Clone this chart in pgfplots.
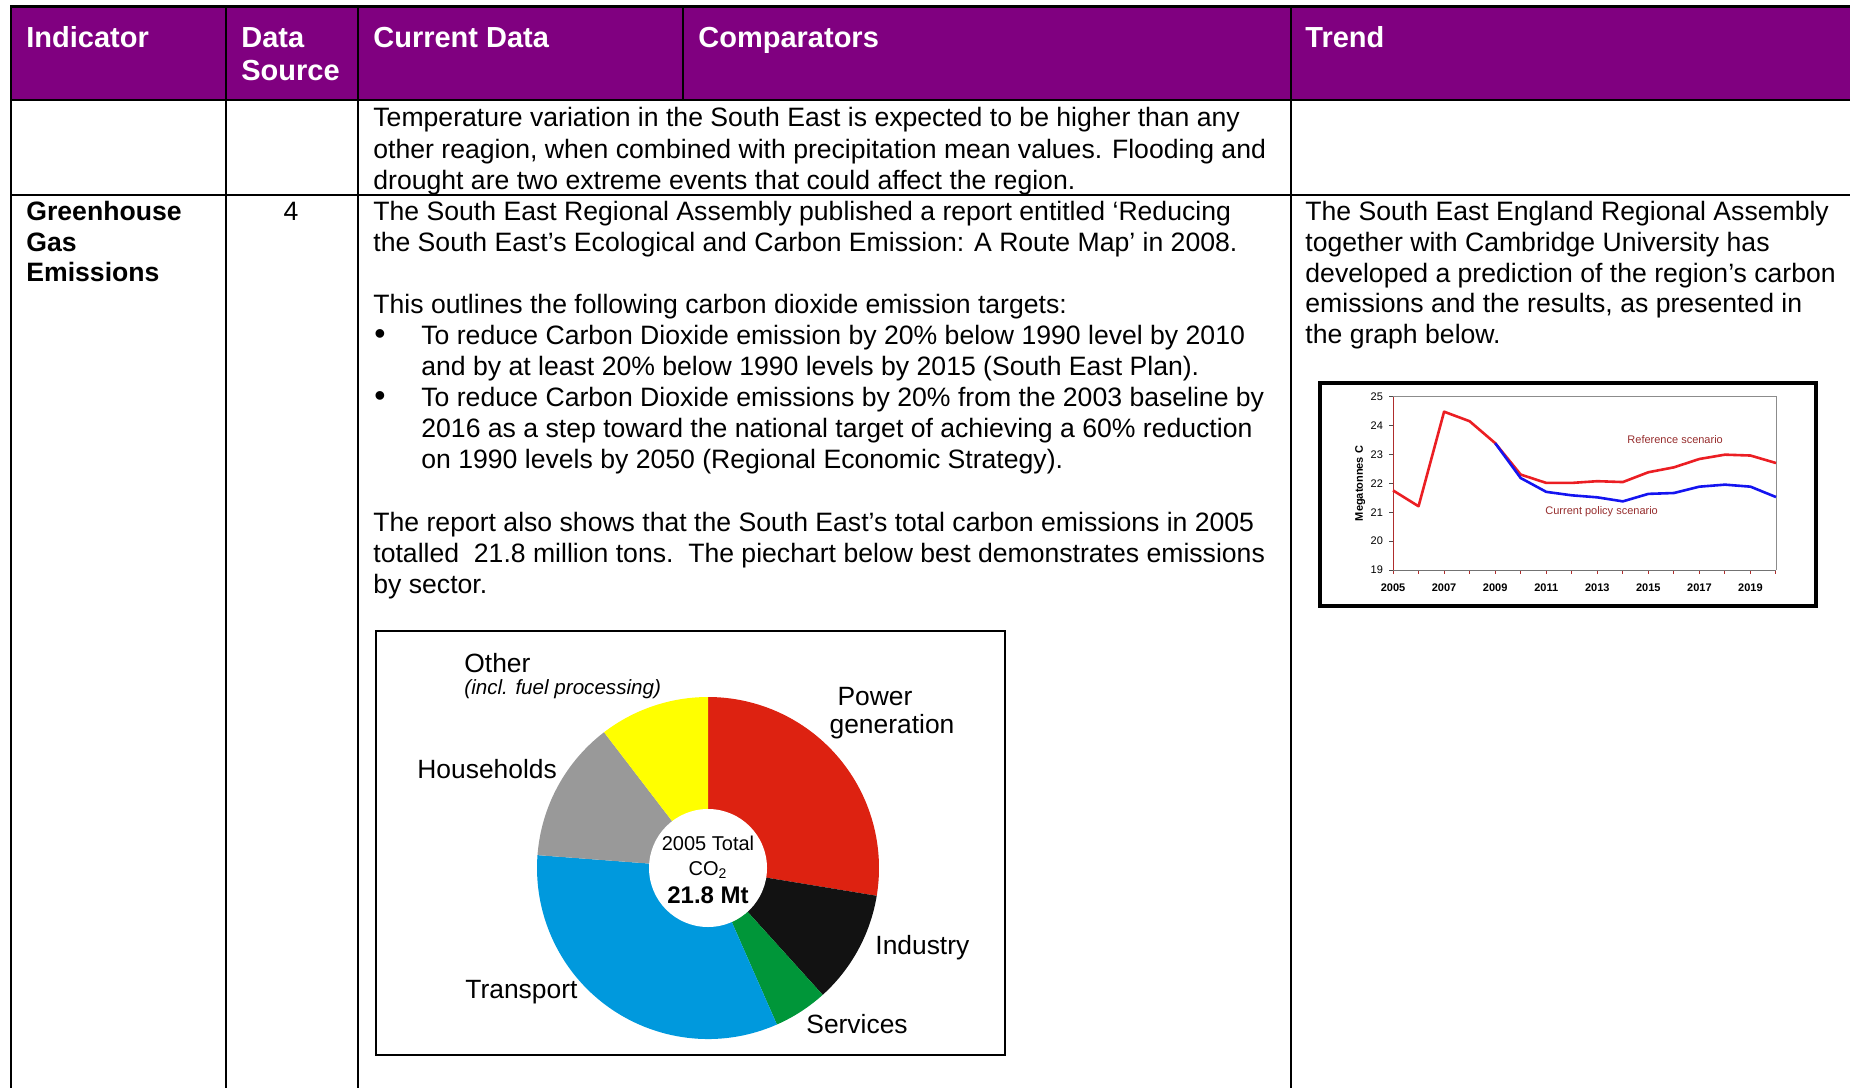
\documentclass[border=0pt]{standalone}
\usepackage{pgfplots}
\pgfplotsset{compat=1.18}
\usepackage{fontspec}
\setmainfont{Liberation Sans}
\definecolor{hdr}{RGB}{128,0,128}
\definecolor{pwr}{RGB}{221,34,17}
\definecolor{ind}{RGB}{18,18,18}
\definecolor{srv}{RGB}{0,150,57}
\definecolor{trn}{RGB}{0,153,221}
\definecolor{hh}{RGB}{153,153,153}
\definecolor{oth}{RGB}{255,255,0}
\definecolor{refred}{RGB}{235,30,35}
\definecolor{polblue}{RGB}{20,20,240}
\definecolor{lbl}{RGB}{150,45,45}
\definecolor{axred}{RGB}{175,45,45}
\newcommand{\bodyfont}{\fontsize{13.3}{15.5}\selectfont}
\newcommand{\hdrfont}{\bfseries\fontsize{14.5}{16.5}\selectfont}
\newcommand{\pielbl}{\fontsize{13.2}{15}\selectfont}
\newcommand{\chartfont}{\fontsize{5.5}{6.5}\selectfont}
\newcommand{\txt}[3]{\node[anchor=base west,inner sep=0pt,font=\bodyfont] at (#1,#2) {#3};}
\newcommand{\bul}[2]{\node[anchor=base west,inner sep=0pt,font=\fontsize{16}{16}\selectfont] at (#1,#2) {•};}
% pie data: share (%) of 2005 total CO2 (21.8 Mt), clockwise from 12 o'clock
\def\vPower{27.6}
\def\vIndustry{10.7}
\def\vServices{5.1}
\def\vTransport{32.8}
\def\vHouseholds{13.4}
\def\vOther{10.4}
\begin{document}
\begin{tikzpicture}
\useasboundingbox (0pt,0pt) rectangle (925pt,544pt);
\begin{scope}[x=0.5pt,y=0.5pt]
\clip (0,0) rectangle (1850,1088);
\fill[hdr] (11,1081) rectangle (1850,988);
\draw[line width=0.8pt] (226,1081) -- (226,0);
\draw[line width=0.8pt] (358,1081) -- (358,0);
\draw[line width=0.8pt] (1291,1081) -- (1291,0);
\draw[line width=0.8pt] (683,1081) -- (683,988);
\draw[line width=0.6pt] (11,988) -- (1850,988);
\draw[line width=1.3pt] (11,893) -- (1850,893);
\draw[line width=1.5pt] (10,1081) -- (1850,1081);
\draw[line width=1.2pt] (11,1081.7) -- (11,0);
% header
\begin{scope}[every node/.style={anchor=base west,inner sep=0pt,text=white,font=\hdrfont}]
\node at (26,1040) {Indicator};
\node at (241,1040) {Data};
\node at (241,1007) {Source};
\node at (373,1040) {Current Data};
\node at (698,1040) {Comparators};
\node at (1305,1040) {Trend};
\end{scope}
% row 1
\txt{373}{961}{Temperature variation in the South East is expected to be higher than any}
\txt{373}{929}{other reagion, when combined with precipitation mean values. Flooding and}
\txt{373}{898}{drought are two extreme events that could affect the region.}
% row 2
\node[anchor=base west,inner sep=0pt,font=\bfseries\bodyfont] at (26,867) {Greenhouse};
\node[anchor=base west,inner sep=0pt,font=\bfseries\bodyfont] at (26,836) {Gas};
\node[anchor=base west,inner sep=0pt,font=\bfseries\bodyfont] at (26,806) {Emissions};
\node[anchor=base,inner sep=0pt,font=\bodyfont] at (291,867) {4};
\txt{373}{867}{The South East Regional Assembly published a report entitled ‘Reducing}
\txt{373}{836}{the South East’s Ecological and Carbon Emission: A Route Map’ in 2008.}
\txt{373}{774}{This outlines the following carbon dioxide emission targets:}
\bul{374}{743}
\txt{421}{743}{To reduce Carbon Dioxide emission by 20\% below 1990 level by 2010}
\txt{421}{712}{and by at least 20\% below 1990 levels by 2015 (South East Plan).}
\bul{374}{681}
\txt{421}{681}{To reduce Carbon Dioxide emissions by 20\% from the 2003 baseline by}
\txt{421}{650}{2016 as a step toward the national target of achieving a 60\% reduction}
\txt{421}{619}{on 1990 levels by 2050 (Regional Economic Strategy).}
\txt{373}{557}{The report also shows that the South East’s total carbon emissions in 2005}
\txt{373}{526}{totalled\ \ 21.8 million tons.\ \ The piechart below best demonstrates emissions}
\txt{373}{495}{by sector.}
% trend column
\txt{1305}{867}{The South East England Regional Assembly}
\txt{1305}{836}{together with Cambridge University has}
\txt{1305}{805}{developed a prediction of the region’s carbon}
\txt{1305}{775}{emissions and the results, as presented in}
\txt{1305}{744}{the graph below.}
% boxes
\draw[line width=1.3pt] (376,457) rectangle (1005,33);
\draw[line width=1.6pt] (1320,705) rectangle (1816,482);
% pie labels
\begin{scope}[every node/.style={inner sep=0pt,font=\pielbl}]
\node[anchor=base west] at (464,416) {Other};
\node[anchor=base west,font=\itshape\fontsize{10.3}{12}\selectfont] at (464,394) {(incl. fuel processing)};
\node[anchor=base] at (875,383) {Power};
\node[anchor=base] at (892,355) {generation};
\node[anchor=base west] at (417,310) {Households};
\node[anchor=base west] at (875,134) {Industry};
\node[anchor=base west] at (465,90) {Transport};
\node[anchor=base west] at (806,55) {Services};
\end{scope}
\end{scope}
% pie chart
\begin{axis}[at={(354pt,110pt)}, anchor=center, x=1pt, y=1pt,
  xmin=-90, xmax=90, ymin=-90, ymax=90, hide axis, clip=false]
\fill[pwr] (axis cs:0,0) -- ++(90:85.5pt) arc[start angle=90, delta angle={-3.6*\vPower}, radius=85.5pt] -- cycle;
\fill[ind] (axis cs:0,0) -- ++({90-3.6*\vPower}:85.5pt) arc[start angle={90-3.6*\vPower}, delta angle={-3.6*\vIndustry}, radius=85.5pt] -- cycle;
\fill[srv] (axis cs:0,0) -- ++({90-3.6*(\vPower+\vIndustry)}:85.5pt) arc[start angle={90-3.6*(\vPower+\vIndustry)}, delta angle={-3.6*\vServices}, radius=85.5pt] -- cycle;
\fill[trn] (axis cs:0,0) -- ++({90-3.6*(\vPower+\vIndustry+\vServices)}:85.5pt) arc[start angle={90-3.6*(\vPower+\vIndustry+\vServices)}, delta angle={-3.6*\vTransport}, radius=85.5pt] -- cycle;
\fill[hh] (axis cs:0,0) -- ++({90-3.6*(\vPower+\vIndustry+\vServices+\vTransport)}:85.5pt) arc[start angle={90-3.6*(\vPower+\vIndustry+\vServices+\vTransport)}, delta angle={-3.6*\vHouseholds}, radius=85.5pt] -- cycle;
\fill[oth] (axis cs:0,0) -- ++({90-3.6*(\vPower+\vIndustry+\vServices+\vTransport+\vHouseholds)}:85.5pt) arc[start angle={90-3.6*(\vPower+\vIndustry+\vServices+\vTransport+\vHouseholds)}, delta angle={-3.6*\vOther}, radius=85.5pt] -- cycle;
\fill[white] (axis cs:0,0) circle[radius=29.5pt];
\node[anchor=base,inner sep=0pt,font=\fontsize{10}{12}\selectfont] at (axis cs:0,9) {2005 Total};
\node[anchor=base,inner sep=0pt,font=\fontsize{10}{12}\selectfont] at (axis cs:0,-3.5) {CO\textsubscript{2}};
\node[anchor=base,inner sep=0pt,font=\bfseries\fontsize{12}{14}\selectfont] at (axis cs:0,-17.5) {21.8 Mt};
\end{axis}
% line chart
\begin{axis}[at={(696.5pt,259pt)}, anchor=south west, scale only axis,
  width=191.5pt, height=86.5pt,
  xmin=2005, xmax=2020, ymin=19, ymax=25,
  axis lines=left, axis line style={-, line width=0.5pt},
  x axis line style={black!55}, y axis line style={axred},
  xtick={2005,...,2020},
  xticklabels={2005,{},2007,{},2009,{},2011,{},2013,{},2015,{},2017,{},2019,{}},
  ytick={19,...,25},
  tick align=outside, major tick length=1.8pt,
  x tick style={axred, line width=0.5pt}, y tick style={black!70, line width=0.5pt},
  /pgf/number format/assume math mode=true,
  yticklabel style={font=\chartfont, xshift=0.3pt},
  xticklabel style={font=\bfseries\chartfont, yshift=-1.8pt},
  ylabel={Megatonnes C},
  every axis y label/.style={at={(axis description cs:-0.086,0.5)}, anchor=center, rotate=90, font=\bfseries\chartfont},
  clip=false]
\draw[black!45, line width=0.5pt] (rel axis cs:0,1) -- (rel axis cs:1,1) -- (rel axis cs:1,0);
\addplot[refred, line width=1.3pt, line join=round, mark=none] coordinates {(2005,21.76) (2006,21.21) (2007,24.49) (2008,24.16) (2009,23.40) (2010,22.31) (2011,22.02) (2012,22.02) (2013,22.08) (2014,22.05) (2015,22.39) (2016,22.56) (2017,22.85) (2018,23.00) (2019,22.97) (2020,22.71)};
\addplot[polblue, line width=1.3pt, line join=round, mark=none] coordinates {(2009,23.40) (2010,22.19) (2011,21.71) (2012,21.59) (2013,21.52) (2014,21.38) (2015,21.64) (2016,21.67) (2017,21.89) (2018,21.96) (2019,21.89) (2020,21.53)};
\node[lbl, inner sep=0pt, font=\chartfont] at (axis cs:2016.05,23.51) {Reference scenario};
\node[lbl, inner sep=0pt, font=\chartfont] at (axis cs:2013.17,21.03) {Current policy scenario};
\end{axis}
\end{tikzpicture}
\end{document}
